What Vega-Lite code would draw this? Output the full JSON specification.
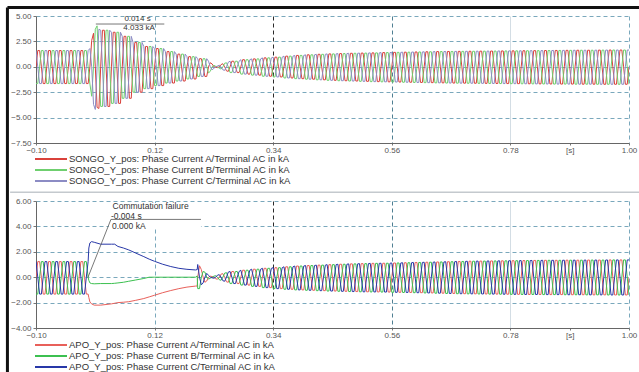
{
"$schema":"https://vega.github.io/schema/vega-lite/v6.json",
"background":"white",
"padding":{"left":5,"top":5,"right":0,"bottom":0},
"config":{"view":{"stroke":null},"font":"Liberation Sans","axis":{"labelFont":"Liberation Sans","labelFontSize":8,"labelColor":"#555","tickColor":"#777","tickSize":3,"domainColor":"#666","labelPadding":2,"title":null,"labelOverlap":false}},
"spacing":58,
"bounds":"flush",
"datasets":{
"s":[
{"t":-100,"a":0,"b":-1.65,"c":1.6},{"t":-96.7,"a":1.6,"b":-1.65,"c":0},{"t":-93.3,"a":1.6,"b":0,"c":-1.65},{"t":-90,"a":0,"b":1.6,"c":-1.65},{"t":-86.7,"a":-1.65,"b":1.6,"c":0},{"t":-83.3,"a":-1.65,"b":0,"c":1.6},
{"t":-80,"a":0,"b":-1.65,"c":1.6},{"t":-76.7,"a":1.6,"b":-1.65,"c":0},{"t":-73.3,"a":1.6,"b":0,"c":-1.65},{"t":-70,"a":0,"b":1.6,"c":-1.65},{"t":-66.7,"a":-1.65,"b":1.6,"c":0},{"t":-63.3,"a":-1.65,"b":0,"c":1.6},
{"t":-60,"a":0,"b":-1.65,"c":1.6},{"t":-56.7,"a":1.6,"b":-1.65,"c":0},{"t":-53.3,"a":1.6,"b":0,"c":-1.65},{"t":-50,"a":0,"b":1.6,"c":-1.65},{"t":-46.7,"a":-1.65,"b":1.6,"c":0},{"t":-43.3,"a":-1.65,"b":0,"c":1.6},
{"t":-40,"a":0,"b":-1.65,"c":1.6},{"t":-36.7,"a":1.6,"b":-1.65,"c":0},{"t":-33.3,"a":1.6,"b":0,"c":-1.65},{"t":-30,"a":0,"b":1.6,"c":-1.65},{"t":-26.7,"a":-1.65,"b":1.6,"c":0},{"t":-23.3,"a":-1.65,"b":0,"c":1.6},
{"t":-20,"a":0,"b":-1.65,"c":1.6},{"t":-16.7,"a":1.6,"b":-1.65,"c":0},{"t":-13.3,"a":1.6,"b":0,"c":-1.65},{"t":-10,"a":0,"b":1.6,"c":-1.65},{"t":-6.7,"a":-1.65,"b":1.6,"c":0},{"t":-3.3,"a":-1.65,"b":0,"c":1.6},
{"t":0,"a":0,"b":-1.7,"c":1.8},{"t":3.3,"a":2.6,"b":-2.9,"c":0},{"t":6.7,"a":3.3,"b":0,"c":-3.7},{"t":10,"a":0,"b":3.7,"c":-4.2},{"t":13.3,"a":-4.0,"b":4.03,"c":0},{"t":16.7,"a":-4.1,"b":0,"c":3.7},
{"t":20,"a":0,"b":-3.9,"c":3.6},{"t":23.3,"a":3.6,"b":-3.9,"c":0},{"t":26.7,"a":3.6,"b":0,"c":-3.9},{"t":30,"a":0,"b":3.6,"c":-3.9},{"t":33.3,"a":-3.9,"b":3.6,"c":0},{"t":36.7,"a":-3.9,"b":0,"c":3.6},
{"t":40,"a":0,"b":-3.6,"c":3.4},{"t":43.3,"a":3.4,"b":-3.6,"c":0},{"t":46.7,"a":3.4,"b":0,"c":-3.6},{"t":50,"a":0,"b":3.4,"c":-3.6},{"t":53.3,"a":-3.6,"b":3.4,"c":0},{"t":56.7,"a":-3.6,"b":0,"c":3.4},
{"t":60,"a":0,"b":-3.1,"c":3.0},{"t":63.3,"a":3.0,"b":-3.1,"c":0},{"t":66.7,"a":3.0,"b":0,"c":-3.1},{"t":70,"a":0,"b":3.0,"c":-3.1},{"t":73.3,"a":-3.1,"b":3.0,"c":0},{"t":76.7,"a":-3.1,"b":0,"c":3.0},
{"t":80,"a":0,"b":-2.5,"c":2.4},{"t":83.3,"a":2.4,"b":-2.5,"c":0},{"t":86.7,"a":2.4,"b":0,"c":-2.5},{"t":90,"a":0,"b":2.4,"c":-2.5},{"t":93.3,"a":-2.5,"b":2.4,"c":0},{"t":96.7,"a":-2.5,"b":0,"c":2.4},
{"t":100,"a":0,"b":-2.15,"c":2.0},{"t":103.3,"a":2.0,"b":-2.15,"c":0},{"t":106.7,"a":2.0,"b":0,"c":-2.15},{"t":110,"a":0,"b":2.0,"c":-2.15},{"t":113.3,"a":-2.15,"b":2.0,"c":0},{"t":116.7,"a":-2.15,"b":0,"c":2.0},
{"t":120,"a":0,"b":-1.85,"c":1.8},{"t":123.3,"a":1.8,"b":-1.85,"c":0},{"t":126.7,"a":1.8,"b":0,"c":-1.85},{"t":130,"a":0,"b":1.8,"c":-1.85},{"t":133.3,"a":-1.85,"b":1.8,"c":0},{"t":136.7,"a":-1.85,"b":0,"c":1.8},
{"t":140,"a":0,"b":-1.6,"c":1.5},{"t":143.3,"a":1.5,"b":-1.6,"c":0},{"t":146.7,"a":1.5,"b":0,"c":-1.6},{"t":150,"a":0,"b":1.5,"c":-1.6},{"t":153.3,"a":-1.6,"b":1.5,"c":0},{"t":156.7,"a":-1.6,"b":0,"c":1.5},
{"t":160,"a":0,"b":-1.4,"c":1.25},{"t":163.3,"a":1.25,"b":-1.4,"c":0},{"t":166.7,"a":1.25,"b":0,"c":-1.4},{"t":170,"a":0,"b":1.25,"c":-1.4},{"t":173.3,"a":-1.4,"b":1.25,"c":0},{"t":176.7,"a":-1.4,"b":0,"c":1.25},
{"t":180,"a":0,"b":-1.2,"c":1.0},{"t":183.3,"a":1.0,"b":-1.2,"c":0},{"t":186.7,"a":1.0,"b":0,"c":-1.2},{"t":190,"a":0,"b":1.0,"c":-1.2},{"t":193.3,"a":-1.2,"b":1.0,"c":0},{"t":196.7,"a":-1.2,"b":0,"c":1.0},
{"t":200,"a":0,"b":-0.95,"c":0.8},{"t":203.3,"a":0.8,"b":-0.95,"c":0},{"t":206.7,"a":0.8,"b":0,"c":-0.95},{"t":210,"a":0,"b":0.8,"c":-0.95},{"t":213.3,"a":-0.95,"b":0.8,"c":0},{"t":216.7,"a":-0.95,"b":0,"c":0.8},
{"t":220,"a":0,"b":-0.6,"c":0.55},{"t":223.3,"a":0.4,"b":-0.45,"c":0},{"t":226.7,"a":0.28,"b":0,"c":-0.3},{"t":230,"a":0,"b":0.15,"c":-0.15},{"t":233.3,"a":-0.05,"b":0.05,"c":0},{"t":236.7,"a":-0.08,"b":0,"c":0.08},
{"t":240,"a":0,"b":-0.15,"c":0.15},{"t":243.3,"a":0.22,"b":-0.22,"c":0},{"t":246.7,"a":0.3,"b":0,"c":-0.3},{"t":250,"a":0,"b":0.35,"c":-0.35},{"t":253.3,"a":-0.4,"b":0.4,"c":0},{"t":256.7,"a":-0.45,"b":0,"c":0.45},
{"t":260,"a":0,"b":-0.57,"c":0.55},{"t":263.3,"a":0.55,"b":-0.57,"c":0},{"t":266.7,"a":0.55,"b":0,"c":-0.57},{"t":270,"a":0,"b":0.55,"c":-0.57},{"t":273.3,"a":-0.57,"b":0.55,"c":0},{"t":276.7,"a":-0.57,"b":0,"c":0.55},
{"t":280,"a":0,"b":-0.72,"c":0.7},{"t":283.3,"a":0.7,"b":-0.72,"c":0},{"t":286.7,"a":0.7,"b":0,"c":-0.72},{"t":290,"a":0,"b":0.7,"c":-0.72},{"t":293.3,"a":-0.72,"b":0.7,"c":0},{"t":296.7,"a":-0.72,"b":0,"c":0.7},
{"t":300,"a":0,"b":-0.82,"c":0.78},{"t":303.3,"a":0.78,"b":-0.82,"c":0},{"t":306.7,"a":0.78,"b":0,"c":-0.82},{"t":310,"a":0,"b":0.78,"c":-0.82},{"t":313.3,"a":-0.82,"b":0.78,"c":0},{"t":316.7,"a":-0.82,"b":0,"c":0.78},
{"t":320,"a":0,"b":-0.93,"c":0.88},{"t":323.3,"a":0.88,"b":-0.93,"c":0},{"t":326.7,"a":0.88,"b":0,"c":-0.93},{"t":330,"a":0,"b":0.88,"c":-0.93},{"t":333.3,"a":-0.93,"b":0.88,"c":0},{"t":336.7,"a":-0.93,"b":0,"c":0.88},
{"t":340,"a":0,"b":-1.0,"c":0.95},{"t":343.3,"a":0.95,"b":-1.0,"c":0},{"t":346.7,"a":0.95,"b":0,"c":-1.0},{"t":350,"a":0,"b":0.95,"c":-1.0},{"t":353.3,"a":-1.0,"b":0.95,"c":0},{"t":356.7,"a":-1.0,"b":0,"c":0.95},
{"t":360,"a":0,"b":-1.1,"c":1.05},{"t":363.3,"a":1.05,"b":-1.1,"c":0},{"t":366.7,"a":1.05,"b":0,"c":-1.1},{"t":370,"a":0,"b":1.05,"c":-1.1},{"t":373.3,"a":-1.1,"b":1.05,"c":0},{"t":376.7,"a":-1.1,"b":0,"c":1.05},
{"t":380,"a":0,"b":-1.17,"c":1.12},{"t":383.3,"a":1.12,"b":-1.17,"c":0},{"t":386.7,"a":1.12,"b":0,"c":-1.17},{"t":390,"a":0,"b":1.12,"c":-1.17},{"t":393.3,"a":-1.17,"b":1.12,"c":0},{"t":396.7,"a":-1.17,"b":0,"c":1.12},
{"t":400,"a":0,"b":-1.22,"c":1.18},{"t":403.3,"a":1.18,"b":-1.22,"c":0},{"t":406.7,"a":1.18,"b":0,"c":-1.22},{"t":410,"a":0,"b":1.18,"c":-1.22},{"t":413.3,"a":-1.22,"b":1.18,"c":0},{"t":416.7,"a":-1.22,"b":0,"c":1.18},
{"t":420,"a":0,"b":-1.28,"c":1.23},{"t":423.3,"a":1.23,"b":-1.28,"c":0},{"t":426.7,"a":1.23,"b":0,"c":-1.28},{"t":430,"a":0,"b":1.23,"c":-1.28},{"t":433.3,"a":-1.28,"b":1.23,"c":0},{"t":436.7,"a":-1.28,"b":0,"c":1.23},
{"t":440,"a":0,"b":-1.33,"c":1.27},{"t":443.3,"a":1.27,"b":-1.33,"c":0},{"t":446.7,"a":1.27,"b":0,"c":-1.33},{"t":450,"a":0,"b":1.27,"c":-1.33},{"t":453.3,"a":-1.33,"b":1.27,"c":0},{"t":456.7,"a":-1.33,"b":0,"c":1.27},
{"t":460,"a":0,"b":-1.37,"c":1.3},{"t":463.3,"a":1.3,"b":-1.37,"c":0},{"t":466.7,"a":1.3,"b":0,"c":-1.37},{"t":470,"a":0,"b":1.3,"c":-1.37},{"t":473.3,"a":-1.37,"b":1.3,"c":0},{"t":476.7,"a":-1.37,"b":0,"c":1.3},
{"t":480,"a":0,"b":-1.4,"c":1.33},{"t":483.3,"a":1.33,"b":-1.4,"c":0},{"t":486.7,"a":1.33,"b":0,"c":-1.4},{"t":490,"a":0,"b":1.33,"c":-1.4},{"t":493.3,"a":-1.4,"b":1.33,"c":0},{"t":496.7,"a":-1.4,"b":0,"c":1.33},
{"t":500,"a":0,"b":-1.43,"c":1.35},{"t":503.3,"a":1.35,"b":-1.43,"c":0},{"t":506.7,"a":1.35,"b":0,"c":-1.43},{"t":510,"a":0,"b":1.35,"c":-1.43},{"t":513.3,"a":-1.43,"b":1.35,"c":0},{"t":516.7,"a":-1.43,"b":0,"c":1.35},
{"t":520,"a":0,"b":-1.46,"c":1.37},{"t":523.3,"a":1.37,"b":-1.46,"c":0},{"t":526.7,"a":1.37,"b":0,"c":-1.46},{"t":530,"a":0,"b":1.37,"c":-1.46},{"t":533.3,"a":-1.46,"b":1.37,"c":0},{"t":536.7,"a":-1.46,"b":0,"c":1.37},
{"t":540,"a":0,"b":-1.48,"c":1.4},{"t":543.3,"a":1.4,"b":-1.48,"c":0},{"t":546.7,"a":1.4,"b":0,"c":-1.48},{"t":550,"a":0,"b":1.4,"c":-1.48},{"t":553.3,"a":-1.48,"b":1.4,"c":0},{"t":556.7,"a":-1.48,"b":0,"c":1.4},
{"t":560,"a":0,"b":-1.5,"c":1.42},{"t":563.3,"a":1.42,"b":-1.5,"c":0},{"t":566.7,"a":1.42,"b":0,"c":-1.5},{"t":570,"a":0,"b":1.42,"c":-1.5},{"t":573.3,"a":-1.5,"b":1.42,"c":0},{"t":576.7,"a":-1.5,"b":0,"c":1.42},
{"t":580,"a":0,"b":-1.52,"c":1.44},{"t":583.3,"a":1.44,"b":-1.52,"c":0},{"t":586.7,"a":1.44,"b":0,"c":-1.52},{"t":590,"a":0,"b":1.44,"c":-1.52},{"t":593.3,"a":-1.52,"b":1.44,"c":0},{"t":596.7,"a":-1.52,"b":0,"c":1.44},
{"t":600,"a":0,"b":-1.54,"c":1.46},{"t":603.3,"a":1.46,"b":-1.54,"c":0},{"t":606.7,"a":1.46,"b":0,"c":-1.54},{"t":610,"a":0,"b":1.46,"c":-1.54},{"t":613.3,"a":-1.54,"b":1.46,"c":0},{"t":616.7,"a":-1.54,"b":0,"c":1.46},
{"t":620,"a":0,"b":-1.56,"c":1.48},{"t":623.3,"a":1.48,"b":-1.56,"c":0},{"t":626.7,"a":1.48,"b":0,"c":-1.56},{"t":630,"a":0,"b":1.48,"c":-1.56},{"t":633.3,"a":-1.56,"b":1.48,"c":0},{"t":636.7,"a":-1.56,"b":0,"c":1.48},
{"t":640,"a":0,"b":-1.58,"c":1.5},{"t":643.3,"a":1.5,"b":-1.58,"c":0},{"t":646.7,"a":1.5,"b":0,"c":-1.58},{"t":650,"a":0,"b":1.5,"c":-1.58},{"t":653.3,"a":-1.58,"b":1.5,"c":0},{"t":656.7,"a":-1.58,"b":0,"c":1.5},
{"t":660,"a":0,"b":-1.6,"c":1.51},{"t":663.3,"a":1.51,"b":-1.6,"c":0},{"t":666.7,"a":1.51,"b":0,"c":-1.6},{"t":670,"a":0,"b":1.51,"c":-1.6},{"t":673.3,"a":-1.6,"b":1.51,"c":0},{"t":676.7,"a":-1.6,"b":0,"c":1.51},
{"t":680,"a":0,"b":-1.61,"c":1.52},{"t":683.3,"a":1.52,"b":-1.61,"c":0},{"t":686.7,"a":1.52,"b":0,"c":-1.61},{"t":690,"a":0,"b":1.52,"c":-1.61},{"t":693.3,"a":-1.61,"b":1.52,"c":0},{"t":696.7,"a":-1.61,"b":0,"c":1.52},
{"t":700,"a":0,"b":-1.62,"c":1.53},{"t":703.3,"a":1.53,"b":-1.62,"c":0},{"t":706.7,"a":1.53,"b":0,"c":-1.62},{"t":710,"a":0,"b":1.53,"c":-1.62},{"t":713.3,"a":-1.62,"b":1.53,"c":0},{"t":716.7,"a":-1.62,"b":0,"c":1.53},
{"t":720,"a":0,"b":-1.63,"c":1.54},{"t":723.3,"a":1.54,"b":-1.63,"c":0},{"t":726.7,"a":1.54,"b":0,"c":-1.63},{"t":730,"a":0,"b":1.54,"c":-1.63},{"t":733.3,"a":-1.63,"b":1.54,"c":0},{"t":736.7,"a":-1.63,"b":0,"c":1.54},
{"t":740,"a":0,"b":-1.64,"c":1.55},{"t":743.3,"a":1.55,"b":-1.64,"c":0},{"t":746.7,"a":1.55,"b":0,"c":-1.64},{"t":750,"a":0,"b":1.55,"c":-1.64},{"t":753.3,"a":-1.64,"b":1.55,"c":0},{"t":756.7,"a":-1.64,"b":0,"c":1.55},
{"t":760,"a":0,"b":-1.65,"c":1.56},{"t":763.3,"a":1.56,"b":-1.65,"c":0},{"t":766.7,"a":1.56,"b":0,"c":-1.65},{"t":770,"a":0,"b":1.56,"c":-1.65},{"t":773.3,"a":-1.65,"b":1.56,"c":0},{"t":776.7,"a":-1.65,"b":0,"c":1.56},
{"t":780,"a":0,"b":-1.66,"c":1.57},{"t":783.3,"a":1.57,"b":-1.66,"c":0},{"t":786.7,"a":1.57,"b":0,"c":-1.66},{"t":790,"a":0,"b":1.57,"c":-1.66},{"t":793.3,"a":-1.66,"b":1.57,"c":0},{"t":796.7,"a":-1.66,"b":0,"c":1.57},
{"t":800,"a":0,"b":-1.67,"c":1.58},{"t":803.3,"a":1.58,"b":-1.67,"c":0},{"t":806.7,"a":1.58,"b":0,"c":-1.67},{"t":810,"a":0,"b":1.58,"c":-1.67},{"t":813.3,"a":-1.67,"b":1.58,"c":0},{"t":816.7,"a":-1.67,"b":0,"c":1.58},
{"t":820,"a":0,"b":-1.68,"c":1.59},{"t":823.3,"a":1.59,"b":-1.68,"c":0},{"t":826.7,"a":1.59,"b":0,"c":-1.68},{"t":830,"a":0,"b":1.59,"c":-1.68},{"t":833.3,"a":-1.68,"b":1.59,"c":0},{"t":836.7,"a":-1.68,"b":0,"c":1.59},
{"t":840,"a":0,"b":-1.69,"c":1.6},{"t":843.3,"a":1.6,"b":-1.69,"c":0},{"t":846.7,"a":1.6,"b":0,"c":-1.69},{"t":850,"a":0,"b":1.6,"c":-1.69},{"t":853.3,"a":-1.69,"b":1.6,"c":0},{"t":856.7,"a":-1.69,"b":0,"c":1.6},
{"t":860,"a":0,"b":-1.7,"c":1.61},{"t":863.3,"a":1.61,"b":-1.7,"c":0},{"t":866.7,"a":1.61,"b":0,"c":-1.7},{"t":870,"a":0,"b":1.61,"c":-1.7},{"t":873.3,"a":-1.7,"b":1.61,"c":0},{"t":876.7,"a":-1.7,"b":0,"c":1.61},
{"t":880,"a":0,"b":-1.7,"c":1.62},{"t":883.3,"a":1.62,"b":-1.7,"c":0},{"t":886.7,"a":1.62,"b":0,"c":-1.7},{"t":890,"a":0,"b":1.62,"c":-1.7},{"t":893.3,"a":-1.7,"b":1.62,"c":0},{"t":896.7,"a":-1.7,"b":0,"c":1.62},
{"t":900,"a":0,"b":-1.71,"c":1.63},{"t":903.3,"a":1.63,"b":-1.71,"c":0},{"t":906.7,"a":1.63,"b":0,"c":-1.71},{"t":910,"a":0,"b":1.63,"c":-1.71},{"t":913.3,"a":-1.71,"b":1.63,"c":0},{"t":916.7,"a":-1.71,"b":0,"c":1.63},
{"t":920,"a":0,"b":-1.71,"c":1.63},{"t":923.3,"a":1.63,"b":-1.71,"c":0},{"t":926.7,"a":1.63,"b":0,"c":-1.71},{"t":930,"a":0,"b":1.63,"c":-1.71},{"t":933.3,"a":-1.71,"b":1.63,"c":0},{"t":936.7,"a":-1.71,"b":0,"c":1.63},
{"t":940,"a":0,"b":-1.72,"c":1.64},{"t":943.3,"a":1.64,"b":-1.72,"c":0},{"t":946.7,"a":1.64,"b":0,"c":-1.72},{"t":950,"a":0,"b":1.64,"c":-1.72},{"t":953.3,"a":-1.72,"b":1.64,"c":0},{"t":956.7,"a":-1.72,"b":0,"c":1.64},
{"t":960,"a":0,"b":-1.72,"c":1.65},{"t":963.3,"a":1.65,"b":-1.72,"c":0},{"t":966.7,"a":1.65,"b":0,"c":-1.72},{"t":970,"a":0,"b":1.65,"c":-1.72},{"t":973.3,"a":-1.72,"b":1.65,"c":0},{"t":976.7,"a":-1.72,"b":0,"c":1.65},
{"t":980,"a":0,"b":-1.72,"c":1.65},{"t":983.3,"a":1.65,"b":-1.72,"c":0},{"t":986.7,"a":1.65,"b":0,"c":-1.72},{"t":990,"a":0,"b":1.65,"c":-1.72},{"t":993.3,"a":-1.72,"b":1.65,"c":0},{"t":996.7,"a":-1.72,"b":0,"c":1.65},
{"t":1000,"a":0,"b":-1.72,"c":1.65}
],
"p":[
{"t":-100,"a":0,"b":-1.33,"c":1.23},{"t":-96.7,"a":1.23,"b":-1.33,"c":0},{"t":-93.3,"a":1.23,"b":0,"c":-1.33},{"t":-90,"a":0,"b":1.23,"c":-1.33},{"t":-86.7,"a":-1.33,"b":1.23,"c":0},{"t":-83.3,"a":-1.33,"b":0,"c":1.23},
{"t":-80,"a":0,"b":-1.33,"c":1.23},{"t":-76.7,"a":1.23,"b":-1.33,"c":0},{"t":-73.3,"a":1.23,"b":0,"c":-1.33},{"t":-70,"a":0,"b":1.23,"c":-1.33},{"t":-66.7,"a":-1.33,"b":1.23,"c":0},{"t":-63.3,"a":-1.33,"b":0,"c":1.23},
{"t":-60,"a":0,"b":-1.33,"c":1.23},{"t":-56.7,"a":1.23,"b":-1.33,"c":0},{"t":-53.3,"a":1.23,"b":0,"c":-1.33},{"t":-50,"a":0,"b":1.23,"c":-1.33},{"t":-46.7,"a":-1.33,"b":1.23,"c":0},{"t":-43.3,"a":-1.33,"b":0,"c":1.23},
{"t":-40,"a":0,"b":-1.33,"c":1.23},{"t":-36.7,"a":1.23,"b":-1.33,"c":0},{"t":-33.3,"a":1.23,"b":0,"c":-1.33},{"t":-30,"a":0,"b":1.23,"c":-1.33},{"t":-26.7,"a":-1.33,"b":1.23,"c":0},{"t":-23.3,"a":-1.33,"b":0,"c":1.23},
{"t":-20,"a":0,"b":-1.33,"c":1.23},{"t":-16.7,"a":1.23,"b":-1.33,"c":0},{"t":-13.3,"a":1.23,"b":0,"c":-1.33},{"t":-10,"a":0,"b":1.23,"c":-1.33},{"t":-6.7,"a":-1.33,"b":1.23,"c":0},{"t":-3.3,"a":-1.33,"b":0,"c":1.23},
{"t":-2,"a":-1.6,"b":-0.25,"c":2.3},{"t":0,"a":-1.95,"b":-0.45,"c":2.7},{"t":3,"a":-2.1,"b":-0.5,"c":2.8},{"t":8,"a":-2.2,"b":-0.52,"c":2.75},{"t":20,"a":-2.2,"b":-0.5,"c":2.6},{"t":40,"a":-2.1,"b":-0.5,"c":2.6},{"t":46,"a":-2.05,"b":-0.48,"c":2.6},{"t":52,"a":-2.0,"b":-0.45,"c":2.42},{"t":62,"a":-1.97,"b":-0.4,"c":2.3},{"t":72,"a":-1.93,"b":-0.32,"c":2.15},{"t":85,"a":-1.82,"b":-0.22,"c":1.9},{"t":100,"a":-1.68,"b":-0.1,"c":1.62},{"t":110,"a":-1.55,"b":0,"c":1.42},{"t":120,"a":-1.42,"b":0,"c":1.25},{"t":135,"a":-1.22,"b":0,"c":1.02},{"t":150,"a":-1.05,"b":0,"c":0.84},{"t":165,"a":-0.9,"b":0,"c":0.7},{"t":180,"a":-0.78,"b":0,"c":0.62},{"t":196,"a":-0.7,"b":0,"c":0.57},{"t":199,"a":-0.7,"b":0.1,"c":0.6},
{"t":200,"a":0,"b":-0.9,"c":1.0},{"t":203.3,"a":0.9,"b":-0.9,"c":0},{"t":206.7,"a":0.6,"b":0,"c":-0.6},{"t":210,"a":0,"b":0.45,"c":-0.45},{"t":213.3,"a":-0.4,"b":0.4,"c":0},{"t":216.7,"a":-0.3,"b":0,"c":0.3},
{"t":220,"a":0,"b":-0.15,"c":0.15},{"t":223.3,"a":0.08,"b":-0.08,"c":0},{"t":226.7,"a":0.05,"b":0,"c":-0.05},{"t":230,"a":0,"b":0.08,"c":-0.08},{"t":233.3,"a":-0.12,"b":0.12,"c":0},{"t":236.7,"a":-0.16,"b":0,"c":0.16},
{"t":240,"a":0,"b":-0.2,"c":0.2},{"t":243.3,"a":0.24,"b":-0.24,"c":0},{"t":246.7,"a":0.28,"b":0,"c":-0.28},{"t":250,"a":0,"b":0.32,"c":-0.32},{"t":253.3,"a":-0.36,"b":0.36,"c":0},{"t":256.7,"a":-0.4,"b":0,"c":0.4},
{"t":260,"a":0,"b":-0.5,"c":0.45},{"t":263.3,"a":0.45,"b":-0.5,"c":0},{"t":266.7,"a":0.45,"b":0,"c":-0.5},{"t":270,"a":0,"b":0.45,"c":-0.5},{"t":273.3,"a":-0.5,"b":0.45,"c":0},{"t":276.7,"a":-0.5,"b":0,"c":0.45},
{"t":280,"a":0,"b":-0.62,"c":0.55},{"t":283.3,"a":0.55,"b":-0.62,"c":0},{"t":286.7,"a":0.55,"b":0,"c":-0.62},{"t":290,"a":0,"b":0.55,"c":-0.62},{"t":293.3,"a":-0.62,"b":0.55,"c":0},{"t":296.7,"a":-0.62,"b":0,"c":0.55},
{"t":300,"a":0,"b":-0.72,"c":0.63},{"t":303.3,"a":0.63,"b":-0.72,"c":0},{"t":306.7,"a":0.63,"b":0,"c":-0.72},{"t":310,"a":0,"b":0.63,"c":-0.72},{"t":313.3,"a":-0.72,"b":0.63,"c":0},{"t":316.7,"a":-0.72,"b":0,"c":0.63},
{"t":320,"a":0,"b":-0.82,"c":0.7},{"t":323.3,"a":0.7,"b":-0.82,"c":0},{"t":326.7,"a":0.7,"b":0,"c":-0.82},{"t":330,"a":0,"b":0.7,"c":-0.82},{"t":333.3,"a":-0.82,"b":0.7,"c":0},{"t":336.7,"a":-0.82,"b":0,"c":0.7},
{"t":340,"a":0,"b":-0.9,"c":0.75},{"t":343.3,"a":0.75,"b":-0.9,"c":0},{"t":346.7,"a":0.75,"b":0,"c":-0.9},{"t":350,"a":0,"b":0.75,"c":-0.9},{"t":353.3,"a":-0.9,"b":0.75,"c":0},{"t":356.7,"a":-0.9,"b":0,"c":0.75},
{"t":360,"a":0,"b":-0.95,"c":0.82},{"t":363.3,"a":0.82,"b":-0.95,"c":0},{"t":366.7,"a":0.82,"b":0,"c":-0.95},{"t":370,"a":0,"b":0.82,"c":-0.95},{"t":373.3,"a":-0.95,"b":0.82,"c":0},{"t":376.7,"a":-0.95,"b":0,"c":0.82},
{"t":380,"a":0,"b":-1.0,"c":0.88},{"t":383.3,"a":0.88,"b":-1.0,"c":0},{"t":386.7,"a":0.88,"b":0,"c":-1.0},{"t":390,"a":0,"b":0.88,"c":-1.0},{"t":393.3,"a":-1.0,"b":0.88,"c":0},{"t":396.7,"a":-1.0,"b":0,"c":0.88},
{"t":400,"a":0,"b":-1.03,"c":0.92},{"t":403.3,"a":0.92,"b":-1.03,"c":0},{"t":406.7,"a":0.92,"b":0,"c":-1.03},{"t":410,"a":0,"b":0.92,"c":-1.03},{"t":413.3,"a":-1.03,"b":0.92,"c":0},{"t":416.7,"a":-1.03,"b":0,"c":0.92},
{"t":420,"a":0,"b":-1.06,"c":0.95},{"t":423.3,"a":0.95,"b":-1.06,"c":0},{"t":426.7,"a":0.95,"b":0,"c":-1.06},{"t":430,"a":0,"b":0.95,"c":-1.06},{"t":433.3,"a":-1.06,"b":0.95,"c":0},{"t":436.7,"a":-1.06,"b":0,"c":0.95},
{"t":440,"a":0,"b":-1.09,"c":0.99},{"t":443.3,"a":0.99,"b":-1.09,"c":0},{"t":446.7,"a":0.99,"b":0,"c":-1.09},{"t":450,"a":0,"b":0.99,"c":-1.09},{"t":453.3,"a":-1.09,"b":0.99,"c":0},{"t":456.7,"a":-1.09,"b":0,"c":0.99},
{"t":460,"a":0,"b":-1.11,"c":1.02},{"t":463.3,"a":1.02,"b":-1.11,"c":0},{"t":466.7,"a":1.02,"b":0,"c":-1.11},{"t":470,"a":0,"b":1.02,"c":-1.11},{"t":473.3,"a":-1.11,"b":1.02,"c":0},{"t":476.7,"a":-1.11,"b":0,"c":1.02},
{"t":480,"a":0,"b":-1.13,"c":1.05},{"t":483.3,"a":1.05,"b":-1.13,"c":0},{"t":486.7,"a":1.05,"b":0,"c":-1.13},{"t":490,"a":0,"b":1.05,"c":-1.13},{"t":493.3,"a":-1.13,"b":1.05,"c":0},{"t":496.7,"a":-1.13,"b":0,"c":1.05},
{"t":500,"a":0,"b":-1.15,"c":1.07},{"t":503.3,"a":1.07,"b":-1.15,"c":0},{"t":506.7,"a":1.07,"b":0,"c":-1.15},{"t":510,"a":0,"b":1.07,"c":-1.15},{"t":513.3,"a":-1.15,"b":1.07,"c":0},{"t":516.7,"a":-1.15,"b":0,"c":1.07},
{"t":520,"a":0,"b":-1.16,"c":1.09},{"t":523.3,"a":1.09,"b":-1.16,"c":0},{"t":526.7,"a":1.09,"b":0,"c":-1.16},{"t":530,"a":0,"b":1.09,"c":-1.16},{"t":533.3,"a":-1.16,"b":1.09,"c":0},{"t":536.7,"a":-1.16,"b":0,"c":1.09},
{"t":540,"a":0,"b":-1.17,"c":1.1},{"t":543.3,"a":1.1,"b":-1.17,"c":0},{"t":546.7,"a":1.1,"b":0,"c":-1.17},{"t":550,"a":0,"b":1.1,"c":-1.17},{"t":553.3,"a":-1.17,"b":1.1,"c":0},{"t":556.7,"a":-1.17,"b":0,"c":1.1},
{"t":560,"a":0,"b":-1.19,"c":1.12},{"t":563.3,"a":1.12,"b":-1.19,"c":0},{"t":566.7,"a":1.12,"b":0,"c":-1.19},{"t":570,"a":0,"b":1.12,"c":-1.19},{"t":573.3,"a":-1.19,"b":1.12,"c":0},{"t":576.7,"a":-1.19,"b":0,"c":1.12},
{"t":580,"a":0,"b":-1.2,"c":1.14},{"t":583.3,"a":1.14,"b":-1.2,"c":0},{"t":586.7,"a":1.14,"b":0,"c":-1.2},{"t":590,"a":0,"b":1.14,"c":-1.2},{"t":593.3,"a":-1.2,"b":1.14,"c":0},{"t":596.7,"a":-1.2,"b":0,"c":1.14},
{"t":600,"a":0,"b":-1.22,"c":1.16},{"t":603.3,"a":1.16,"b":-1.22,"c":0},{"t":606.7,"a":1.16,"b":0,"c":-1.22},{"t":610,"a":0,"b":1.16,"c":-1.22},{"t":613.3,"a":-1.22,"b":1.16,"c":0},{"t":616.7,"a":-1.22,"b":0,"c":1.16},
{"t":620,"a":0,"b":-1.24,"c":1.18},{"t":623.3,"a":1.18,"b":-1.24,"c":0},{"t":626.7,"a":1.18,"b":0,"c":-1.24},{"t":630,"a":0,"b":1.18,"c":-1.24},{"t":633.3,"a":-1.24,"b":1.18,"c":0},{"t":636.7,"a":-1.24,"b":0,"c":1.18},
{"t":640,"a":0,"b":-1.26,"c":1.2},{"t":643.3,"a":1.2,"b":-1.26,"c":0},{"t":646.7,"a":1.2,"b":0,"c":-1.26},{"t":650,"a":0,"b":1.2,"c":-1.26},{"t":653.3,"a":-1.26,"b":1.2,"c":0},{"t":656.7,"a":-1.26,"b":0,"c":1.2},
{"t":660,"a":0,"b":-1.28,"c":1.22},{"t":663.3,"a":1.22,"b":-1.28,"c":0},{"t":666.7,"a":1.22,"b":0,"c":-1.28},{"t":670,"a":0,"b":1.22,"c":-1.28},{"t":673.3,"a":-1.28,"b":1.22,"c":0},{"t":676.7,"a":-1.28,"b":0,"c":1.22},
{"t":680,"a":0,"b":-1.3,"c":1.24},{"t":683.3,"a":1.24,"b":-1.3,"c":0},{"t":686.7,"a":1.24,"b":0,"c":-1.3},{"t":690,"a":0,"b":1.24,"c":-1.3},{"t":693.3,"a":-1.3,"b":1.24,"c":0},{"t":696.7,"a":-1.3,"b":0,"c":1.24},
{"t":700,"a":0,"b":-1.31,"c":1.26},{"t":703.3,"a":1.26,"b":-1.31,"c":0},{"t":706.7,"a":1.26,"b":0,"c":-1.31},{"t":710,"a":0,"b":1.26,"c":-1.31},{"t":713.3,"a":-1.31,"b":1.26,"c":0},{"t":716.7,"a":-1.31,"b":0,"c":1.26},
{"t":720,"a":0,"b":-1.32,"c":1.27},{"t":723.3,"a":1.27,"b":-1.32,"c":0},{"t":726.7,"a":1.27,"b":0,"c":-1.32},{"t":730,"a":0,"b":1.27,"c":-1.32},{"t":733.3,"a":-1.32,"b":1.27,"c":0},{"t":736.7,"a":-1.32,"b":0,"c":1.27},
{"t":740,"a":0,"b":-1.33,"c":1.28},{"t":743.3,"a":1.28,"b":-1.33,"c":0},{"t":746.7,"a":1.28,"b":0,"c":-1.33},{"t":750,"a":0,"b":1.28,"c":-1.33},{"t":753.3,"a":-1.33,"b":1.28,"c":0},{"t":756.7,"a":-1.33,"b":0,"c":1.28},
{"t":760,"a":0,"b":-1.34,"c":1.29},{"t":763.3,"a":1.29,"b":-1.34,"c":0},{"t":766.7,"a":1.29,"b":0,"c":-1.34},{"t":770,"a":0,"b":1.29,"c":-1.34},{"t":773.3,"a":-1.34,"b":1.29,"c":0},{"t":776.7,"a":-1.34,"b":0,"c":1.29},
{"t":780,"a":0,"b":-1.35,"c":1.3},{"t":783.3,"a":1.3,"b":-1.35,"c":0},{"t":786.7,"a":1.3,"b":0,"c":-1.35},{"t":790,"a":0,"b":1.3,"c":-1.35},{"t":793.3,"a":-1.35,"b":1.3,"c":0},{"t":796.7,"a":-1.35,"b":0,"c":1.3},
{"t":800,"a":0,"b":-1.36,"c":1.31},{"t":803.3,"a":1.31,"b":-1.36,"c":0},{"t":806.7,"a":1.31,"b":0,"c":-1.36},{"t":810,"a":0,"b":1.31,"c":-1.36},{"t":813.3,"a":-1.36,"b":1.31,"c":0},{"t":816.7,"a":-1.36,"b":0,"c":1.31},
{"t":820,"a":0,"b":-1.36,"c":1.32},{"t":823.3,"a":1.32,"b":-1.36,"c":0},{"t":826.7,"a":1.32,"b":0,"c":-1.36},{"t":830,"a":0,"b":1.32,"c":-1.36},{"t":833.3,"a":-1.36,"b":1.32,"c":0},{"t":836.7,"a":-1.36,"b":0,"c":1.32},
{"t":840,"a":0,"b":-1.37,"c":1.33},{"t":843.3,"a":1.33,"b":-1.37,"c":0},{"t":846.7,"a":1.33,"b":0,"c":-1.37},{"t":850,"a":0,"b":1.33,"c":-1.37},{"t":853.3,"a":-1.37,"b":1.33,"c":0},{"t":856.7,"a":-1.37,"b":0,"c":1.33},
{"t":860,"a":0,"b":-1.37,"c":1.33},{"t":863.3,"a":1.33,"b":-1.37,"c":0},{"t":866.7,"a":1.33,"b":0,"c":-1.37},{"t":870,"a":0,"b":1.33,"c":-1.37},{"t":873.3,"a":-1.37,"b":1.33,"c":0},{"t":876.7,"a":-1.37,"b":0,"c":1.33},
{"t":880,"a":0,"b":-1.38,"c":1.34},{"t":883.3,"a":1.34,"b":-1.38,"c":0},{"t":886.7,"a":1.34,"b":0,"c":-1.38},{"t":890,"a":0,"b":1.34,"c":-1.38},{"t":893.3,"a":-1.38,"b":1.34,"c":0},{"t":896.7,"a":-1.38,"b":0,"c":1.34},
{"t":900,"a":0,"b":-1.38,"c":1.34},{"t":903.3,"a":1.34,"b":-1.38,"c":0},{"t":906.7,"a":1.34,"b":0,"c":-1.38},{"t":910,"a":0,"b":1.34,"c":-1.38},{"t":913.3,"a":-1.38,"b":1.34,"c":0},{"t":916.7,"a":-1.38,"b":0,"c":1.34},
{"t":920,"a":0,"b":-1.39,"c":1.35},{"t":923.3,"a":1.35,"b":-1.39,"c":0},{"t":926.7,"a":1.35,"b":0,"c":-1.39},{"t":930,"a":0,"b":1.35,"c":-1.39},{"t":933.3,"a":-1.39,"b":1.35,"c":0},{"t":936.7,"a":-1.39,"b":0,"c":1.35},
{"t":940,"a":0,"b":-1.39,"c":1.35},{"t":943.3,"a":1.35,"b":-1.39,"c":0},{"t":946.7,"a":1.35,"b":0,"c":-1.39},{"t":950,"a":0,"b":1.35,"c":-1.39},{"t":953.3,"a":-1.39,"b":1.35,"c":0},{"t":956.7,"a":-1.39,"b":0,"c":1.35},
{"t":960,"a":0,"b":-1.4,"c":1.36},{"t":963.3,"a":1.36,"b":-1.4,"c":0},{"t":966.7,"a":1.36,"b":0,"c":-1.4},{"t":970,"a":0,"b":1.36,"c":-1.4},{"t":973.3,"a":-1.4,"b":1.36,"c":0},{"t":976.7,"a":-1.4,"b":0,"c":1.36},
{"t":980,"a":0,"b":-1.4,"c":1.36},{"t":983.3,"a":1.36,"b":-1.4,"c":0},{"t":986.7,"a":1.36,"b":0,"c":-1.4},{"t":990,"a":0,"b":1.36,"c":-1.4},{"t":993.3,"a":-1.4,"b":1.36,"c":0},{"t":996.7,"a":-1.4,"b":0,"c":1.36},
{"t":1000,"a":0,"b":-1.4,"c":1.36}
]
},
"resolve":{"scale":{"color":"independent","x":"independent","y":"independent"},"legend":{"color":"independent"}},
"vconcat":[
{
"width":593,"height":127,
"layer":[
{"data":{"name":"s"},
"transform":[{"fold":["a","b","c"],"as":["ph","v"]}],
"mark":{"type":"line","strokeWidth":1,"clip":true},
"encoding":{
"x":{"field":"t","type":"quantitative","scale":{"domain":[-100,1000],"nice":false,"zero":false},
"axis":{"values":[-100,120,340,560,780,890,1000],"tickCount":20,"tickSize":2,"labelPadding":1,"labelExpr":"datum.value==890?'[s]':format(datum.value/1000,'.2f')","labelOverlap":false,"labelFlush":false,"title":null,"grid":true,
"gridColor":{"condition":[{"test":"datum.value==340","value":"#2a2a2a"},{"test":"datum.value==560","value":"#4f7f92"},{"test":"datum.value==780","value":"#d3dde4"}],"value":"#7aa8bc"},
"gridDash":{"condition":{"test":"datum.value==780","value":[]},"value":[4,3]},
"gridOpacity":{"condition":{"test":"datum.value==890||datum.value==-100","value":0},"value":1}}},
"y":{"field":"v","type":"quantitative","scale":{"domain":[-7.5,5],"nice":false,"zero":false},
"axis":{"values":[-7.5,-5,-2.5,0,2.5,5],"tickCount":12,"format":".2f","title":null,"labelOverlap":false,"grid":true,"gridColor":"#7aa8bc","gridDash":[4,3]}},
"color":{"field":"ph","type":"nominal","scale":{"domain":["a","b","c"],"range":["#d9413b","#6fcf6f","#8c8cc4"]},
"legend":{"orient":"none","legendX":9,"legendY":137,"direction":"vertical","title":null,"symbolType":"M-3.2,0H3.2","symbolSize":100,"symbolStrokeWidth":2,"labelFontSize":9.5,"labelFont":"Liberation Sans","labelColor":"#333","labelOffset":12,"rowPadding":-1,"padding":0,"labelLimit":400,
"labelExpr":"'SONGO_Y_pos: Phase Current ' + upper(datum.label) + '/Terminal AC in kA'"}}
}},
{"data":{"values":[{"t":11,"v":4.21,"t2":138}]},
"mark":{"type":"rule","color":"#555","strokeWidth":0.8},
"encoding":{"x":{"field":"t","type":"quantitative"},"x2":{"field":"t2"},"y":{"field":"v","type":"quantitative"}}},
{"data":{"values":[{"t":64,"v":4.66,"s":"0.014 s"},{"t":62,"v":3.82,"s":"4.033 kA"}]},
"mark":{"type":"text","align":"left","baseline":"middle","fontSize":8,"font":"Liberation Sans","color":"#333"},
"encoding":{"x":{"field":"t","type":"quantitative"},"y":{"field":"v","type":"quantitative"},"text":{"field":"s"}}},
{"data":{"values":[{"t":-153,"v":5.84,"t2":1021,"v2":5.84},{"t":-153,"v":5.84,"t2":-153,"v2":-30.2}]},
"mark":{"type":"rule","color":"#111","strokeWidth":3,"clip":false},
"encoding":{"x":{"field":"t","type":"quantitative"},"x2":{"field":"t2"},"y":{"field":"v","type":"quantitative"},"y2":{"field":"v2"}}}
]
},
{
"width":593,"height":127,
"layer":[
{"data":{"name":"p"},
"transform":[{"fold":["a","b","c"],"as":["ph","v"]}],
"mark":{"type":"line","strokeWidth":1,"clip":true},
"encoding":{
"x":{"field":"t","type":"quantitative","scale":{"domain":[-100,1000],"nice":false,"zero":false},
"axis":{"values":[-100,120,340,560,780,890,1000],"tickCount":20,"tickSize":2,"labelPadding":1,"labelExpr":"datum.value==890?'[s]':format(datum.value/1000,'.2f')","labelOverlap":false,"labelFlush":false,"title":null,"grid":true,
"gridColor":{"condition":[{"test":"datum.value==340","value":"#2a2a2a"},{"test":"datum.value==560","value":"#4f7f92"},{"test":"datum.value==780","value":"#d3dde4"}],"value":"#7aa8bc"},
"gridDash":{"condition":{"test":"datum.value==780","value":[]},"value":[4,3]},
"gridOpacity":{"condition":{"test":"datum.value==890||datum.value==-100","value":0},"value":1}}},
"y":{"field":"v","type":"quantitative","scale":{"domain":[-4,6],"nice":false,"zero":false},
"axis":{"values":[-4,-2,0,2,4,6],"tickCount":12,"format":".2f","title":null,"labelOverlap":false,"grid":true,"gridColor":"#7aa8bc","gridDash":[4,3]}},
"color":{"field":"ph","type":"nominal","scale":{"domain":["a","b","c"],"range":["#e8605a","#3cc050","#2838a8"]},
"legend":{"orient":"none","legendX":9,"legendY":138,"direction":"vertical","title":null,"symbolType":"M-3.2,0H3.2","symbolSize":100,"symbolStrokeWidth":2,"labelFontSize":9.5,"labelFont":"Liberation Sans","labelColor":"#333","labelOffset":12,"rowPadding":-1,"padding":0,"labelLimit":400,
"labelExpr":"'APO_Y_pos: Phase Current ' + upper(datum.label) + '/Terminal AC in kA'"}}
}},
{"data":{"values":[{"t":35,"t2":206,"v":3.85,"v2":5.85}]},
"mark":{"type":"rect","color":"white"},
"encoding":{"x":{"field":"t","type":"quantitative"},"x2":{"field":"t2"},"y":{"field":"v","type":"quantitative"},"y2":{"field":"v2"}}},
{"data":{"values":[{"t":-3.5,"v":0,"t2":39,"v2":4.55},{"t":39,"v":4.55,"t2":206,"v2":4.55}]},
"mark":{"type":"rule","color":"#555","strokeWidth":0.8},
"encoding":{"x":{"field":"t","type":"quantitative"},"x2":{"field":"t2"},"y":{"field":"v","type":"quantitative"},"y2":{"field":"v2"}}},
{"data":{"values":[{"t":42,"v":5.62,"s":"Commutation failure"},{"t":39,"v":4.8,"s":"-0.004 s"},{"t":41,"v":4.06,"s":"0.000 kA"}]},
"mark":{"type":"text","align":"left","baseline":"middle","fontSize":8.5,"font":"Liberation Sans","color":"#333"},
"encoding":{"x":{"field":"t","type":"quantitative"},"y":{"field":"v","type":"quantitative"},"text":{"field":"s"}}},
{"data":{"values":[{"t":-148,"v":6.69,"t2":1021,"v2":6.69}]},
"mark":{"type":"rule","color":"#c4c9ce","strokeWidth":1.5,"clip":false},
"encoding":{"x":{"field":"t","type":"quantitative"},"x2":{"field":"t2"},"y":{"field":"v","type":"quantitative"},"y2":{"field":"v2"}}}
]
}
]
}
